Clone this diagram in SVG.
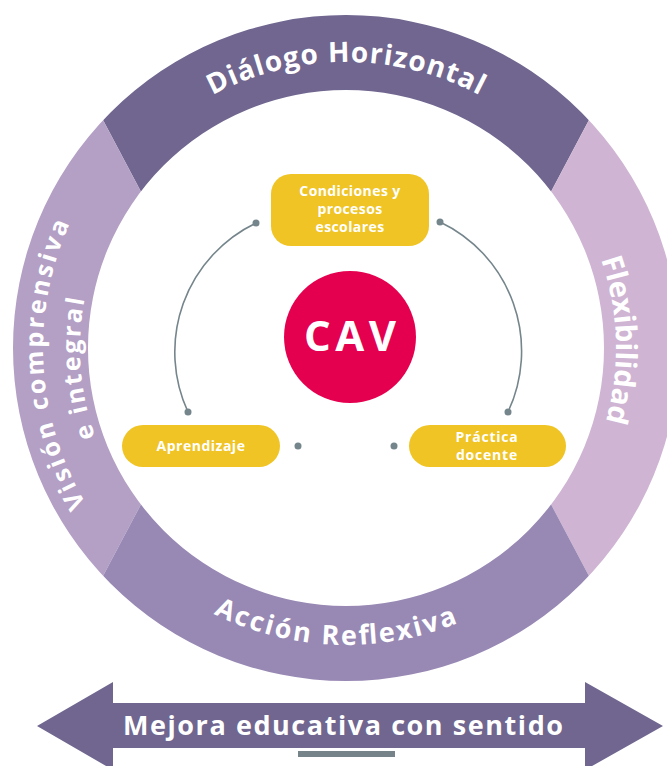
<svg xmlns="http://www.w3.org/2000/svg" width="667" height="766" viewBox="0 0 667 766">
<style>
.ring{font-family:"Open Sans","Liberation Sans",sans-serif;font-weight:700;fill:#fff}
.box{fill:#efc424}
.bt{font-family:"Open Sans","Liberation Sans",sans-serif;font-weight:700;font-size:14px;fill:#fff;text-anchor:middle}
.conn{fill:none;stroke:#75858c;stroke-width:1.6}
.dot{fill:#75858c}
</style>
<defs>
<clipPath id="annulus">
<path clip-rule="evenodd" d="M13,348 A333,333 0 1,0 679,348 A333,333 0 1,0 13,348 Z M88,348 A258,258 0 1,0 604,348 A258,258 0 1,0 88,348 Z"/>
</clipPath>
<path id="pTop" d="M60,348 A286,286 0 0 1 632,348"/>
<path id="pBot" d="M49,348 A297,297 0 0 0 643,348"/>
<path id="pL1" d="M346,651 A303,303 0 0 1 346,45"/>
<path id="pL2" d="M346,614 A266,266 0 0 1 346,82"/>
<path id="pR" d="M346,78 A270,270 0 0 1 346,618"/>
</defs>
<rect width="667" height="766" fill="#fff"/>
<g clip-path="url(#annulus)">
<g id="dialogo-horizontal"><polygon points="34.2,-10 657.8,-10 468.3,348 223.7,348" fill="#70668f"/></g>
<g id="vision-integral"><polygon points="-10,-10 34.2,-10 223.7,348 34.2,706 -10,706" fill="#b49fc5"/></g>
<g id="flexibilidad"><polygon points="657.8,-10 700,-10 700,706 657.8,706 468.3,348" fill="#cfb5d3"/></g>
<g id="accion-reflexiva"><polygon points="223.7,348 468.3,348 657.8,706 34.2,706" fill="#9888b4"/></g>
</g>
<text class="ring" font-size="28"><textPath href="#pTop" startOffset="449" text-anchor="middle" textLength="278" lengthAdjust="spacing">Diálogo Horizontal</textPath></text>
<text class="ring" font-size="27"><textPath href="#pBot" startOffset="455" text-anchor="middle" textLength="252" lengthAdjust="spacing">Acción Reflexiva</textPath></text>
<text class="ring" font-size="25"><textPath href="#pL1" startOffset="458" text-anchor="middle" textLength="292" lengthAdjust="spacing">Visión comprensiva</textPath></text>
<text class="ring" font-size="25"><textPath href="#pL2" startOffset="397" text-anchor="middle" textLength="140" lengthAdjust="spacing">e integral</textPath></text>
<text class="ring" font-size="29"><textPath href="#pR" startOffset="416" text-anchor="middle" textLength="165" lengthAdjust="spacing">Flexibilidad</textPath></text>
<g id="connectors">
<path class="conn" d="M256,223 A143,143 0 0 0 188,412"/>
<path class="conn" d="M440,222 A143,143 0 0 1 508,412"/>
<circle class="dot" cx="256" cy="223" r="3.5"/>
<circle class="dot" cx="188" cy="412" r="3.5"/>
<circle class="dot" cx="440" cy="222" r="3.5"/>
<circle class="dot" cx="508" cy="412" r="3.5"/>
<circle class="dot" cx="298" cy="446" r="3.5"/>
<circle class="dot" cx="394" cy="446" r="3.5"/>
</g>
<g id="condiciones">
<rect class="box" x="271" y="174" width="158" height="72" rx="20"/>
<text class="bt" x="350" y="196" letter-spacing="0.4">Condiciones y</text>
<text class="bt" x="350" y="214" letter-spacing="0.4">procesos</text>
<text class="bt" x="350" y="232" letter-spacing="0.4">escolares</text>
</g>
<g id="aprendizaje">
<rect class="box" x="122" y="425" width="158" height="42" rx="21"/>
<text class="bt" x="201" y="451" font-size="15" letter-spacing="0.5">Aprendizaje</text>
</g>
<g id="practica">
<rect class="box" x="409" y="425" width="157" height="42" rx="21"/>
<text class="bt" x="487" y="442" font-size="15" letter-spacing="0.8">Práctica</text>
<text class="bt" x="487" y="460" font-size="15" letter-spacing="0.8">docente</text>
</g>
<g id="cav">
<circle cx="350" cy="337" r="66" fill="#e5004f"/>
<text x="350" y="351" font-family="Open Sans, Liberation Sans, sans-serif" font-weight="700" font-size="42" fill="#fff" text-anchor="middle" textLength="92" lengthAdjust="spacing">CAV</text>
</g>
<g id="mejora">
<polygon points="37,726 113,682 113,703 585,703 585,682 663,726 585,770 585,748 113,748 113,770" fill="#70668f"/>
<text x="343" y="735" font-family="Open Sans, Liberation Sans, sans-serif" font-weight="700" font-size="27" fill="#fff" text-anchor="middle" textLength="440" lengthAdjust="spacing">Mejora educativa con sentido</text>
<rect x="298" y="751" width="97" height="6" fill="#76848a"/>
</g>
</svg>
